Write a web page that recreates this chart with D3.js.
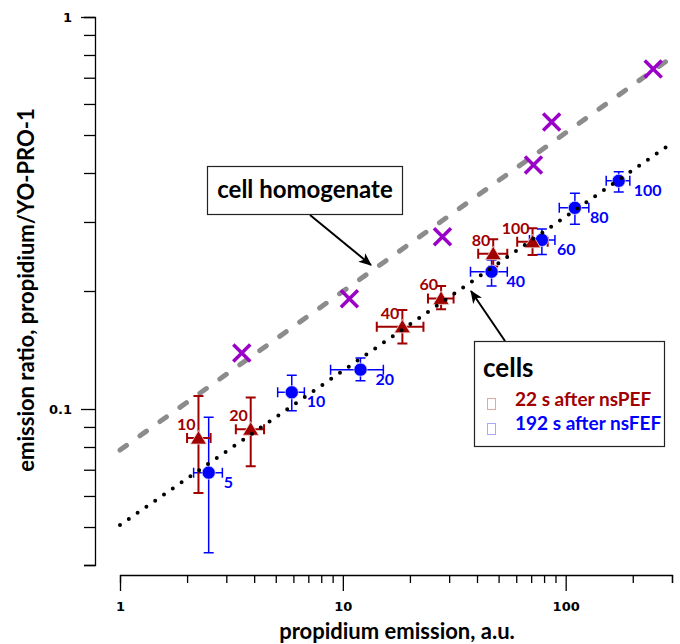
<!DOCTYPE html>
<html>
<head>
<meta charset="utf-8">
<script src="https://cdn.jsdelivr.net/npm/d3@7"></script>
<style>
  body { margin: 0; background: #fff; }
  svg { display: block; }
  .title { font-family: Lato, "Open Sans", sans-serif; font-weight: bold; }
</style>
</head>
<body>
<svg id="chart" width="680" height="644"></svg>
<script>
// homogenate (purple crosses) and its fit line
var homX = [3.52, 10.7, 28.0, 71.7, 86.5, 247];
var homY = [0.139, 0.191, 0.275, 0.419, 0.54, 0.737];
var homFitX = [1, 300];
var homFitY = [0.0786, 0.79];

// fit line through the cell data
var cellFitX = [1, 300];
var cellFitY = [0.0506, 0.477];

// cells, 22 s after nsPEF (red triangles)
var redLbl = ['10', '20', '40', '60', '80', '100'];
var redX   = [2.25, 3.86, 18.5, 27.6, 47.3, 71.0];
var redY   = [0.0843, 0.0888, 0.162, 0.1915, 0.249, 0.267];
var redXLo = [2.0, 3.31, 14.2, 24.1, 40.5, 60.6];
var redXHi = [2.55, 4.43, 23.0, 31.4, 54.7, 83.0];
var redYLo = [0.0611, 0.0714, 0.147, 0.1796, 0.231, 0.247];
var redYHi = [0.108, 0.107, 0.179, 0.206, 0.271, 0.289];

// cells, 192 s after nsFEF (blue circles)
var bluLbl = ['5', '10', '20', '40', '60', '80', '100'];
var bluX   = [2.5, 5.9, 12.0, 46.5, 78.2, 110, 173];
var bluY   = [0.0688, 0.1103, 0.126, 0.224, 0.270, 0.326, 0.382];
var bluXLo = [2.14, 5.1, 8.81, 37.4, 68.8, 93.6, 152];
var bluXHi = [2.88, 6.72, 15.2, 54.7, 89.5, 127, 194];
var bluYLo = [0.043, 0.099, 0.118, 0.206, 0.248, 0.296, 0.358];
var bluYHi = [0.0953, 0.122, 0.135, 0.24, 0.288, 0.355, 0.403];

// axis ticks
var xTicks = [1, 2, 3, 4, 5, 6, 7, 8, 9, 10, 20, 30, 40, 50, 60, 70, 80, 90, 100, 200, 300];
var xMajor = [1, 10, 100];
var yTicks = [0.04, 0.05, 0.06, 0.07, 0.08, 0.09, 0.1, 0.2, 0.3, 0.4, 0.5, 0.6, 0.7, 0.8, 0.9, 1];
var yMajor = [0.1, 1];

var RED = '#a00000', BLUE = '#0000ff', PURPLE = '#9a00c8', GRAY = '#8c8c8c';

var svg = d3.select('#chart');
var x = d3.scaleLog().domain([1, 300]).range([120, 672]);
var y = d3.scaleLog().domain([0.04, 1]).range([565, 17]);

function isMajor(list, v) {
    return list.some(function (m) { return Math.abs(m - v) < 1e-9; });
}

//x axis
var gx = svg.append('g')
    .attr('transform', 'translate(0,575)')
    .call(d3.axisBottom(x).tickValues(xTicks).tickSizeOuter(0).tickSize(8)
        .tickFormat(function (d) { return isMajor(xMajor, d) ? d3.format('d')(d) : ''; }));
gx.attr('font-family', 'Tahoma, "DejaVu Sans", sans-serif').attr('font-size', 13).attr('font-weight', 'bold');
gx.select('.domain').attr('stroke-width', 1.3);
gx.selectAll('.tick line').attr('stroke-width', 1.3)
    .attr('y2', function (d) { return isMajor(xMajor, d) ? 16 : 8; });
gx.selectAll('.tick text').attr('y', 27).attr('dy', '0.71em');

//y axis
var gy = svg.append('g')
    .attr('transform', 'translate(95,0)')
    .call(d3.axisLeft(y).tickValues(yTicks).tickSizeOuter(0).tickSize(11)
        .tickFormat(function (d) { return isMajor(yMajor, d) ? String(d) : ''; }));
gy.attr('font-family', 'Tahoma, "DejaVu Sans", sans-serif').attr('font-size', 13).attr('font-weight', 'bold');
gy.select('.domain').attr('stroke-width', 1.3);
gy.selectAll('.tick line').attr('stroke-width', 1.3)
    .attr('x2', function (d) { return isMajor(yMajor, d) ? -14 : -11; });
gy.selectAll('.tick text').attr('x', -23).attr('dy', '0.35em');

//axis titles
svg.append('text').attr('class', 'title')
    .attr('x', 397).attr('y', 639)
    .attr('text-anchor', 'middle').attr('font-size', 22)
    .text('propidium emission, a.u.');
svg.append('text').attr('class', 'title')
    .attr('transform', 'translate(34,290) rotate(-90)')
    .attr('text-anchor', 'middle').attr('font-size', 22)
    .text('emission ratio, propidium/YO-PRO-1');

var line = d3.line()
    .x(function (d) { return x(d[0]); })
    .y(function (d) { return y(d[1]); });

//homogenate fit (gray dashes)
svg.append('path')
    .datum(d3.zip(homFitX, homFitY))
    .attr('d', line)
    .attr('fill', 'none').attr('stroke', GRAY)
    .attr('stroke-width', 5).attr('stroke-linecap', 'round')
    .attr('stroke-dasharray', '8 16.5');

//homogenate points
svg.append('g').selectAll('path')
    .data(d3.zip(homX, homY))
    .join('path')
    .attr('transform', function (d) { return 'translate(' + x(d[0]) + ',' + y(d[1]) + ')'; })
    .attr('d', 'M-8.5,-8.5L8.5,8.5M-8.5,8.5L8.5,-8.5')
    .attr('stroke', PURPLE).attr('stroke-width', 3.5).attr('fill', 'none');

function drawSeries(xs, ys, xlo, xhi, ylo, yhi, color, sw) {
    var g = svg.append('g').attr('stroke', color).attr('stroke-width', sw).attr('fill', 'none');
    var cap = 5;
    xs.forEach(function (v, i) {
        var cx = x(v), cy = y(ys[i]);
        var x0 = x(xlo[i]), x1 = x(xhi[i]), y0 = y(ylo[i]), y1 = y(yhi[i]);
        g.append('path').attr('d',
            'M' + x0 + ',' + cy + 'H' + x1 +
            'M' + x0 + ',' + (cy - cap) + 'V' + (cy + cap) +
            'M' + x1 + ',' + (cy - cap) + 'V' + (cy + cap) +
            'M' + cx + ',' + y0 + 'V' + y1 +
            'M' + (cx - cap) + ',' + y0 + 'H' + (cx + cap) +
            'M' + (cx - cap) + ',' + y1 + 'H' + (cx + cap));
    });
}

drawSeries(bluX, bluY, bluXLo, bluXHi, bluYLo, bluYHi, BLUE, 1.5);
drawSeries(redX, redY, redXLo, redXHi, redYLo, redYHi, RED, 2);

//blue circles
svg.append('g').selectAll('circle')
    .data(d3.zip(bluX, bluY))
    .join('circle')
    .attr('cx', function (d) { return x(d[0]); })
    .attr('cy', function (d) { return y(d[1]); })
    .attr('r', 6.6)
    .attr('fill', BLUE).attr('stroke', '#d8d8ff').attr('stroke-width', 0.8);

//red triangles
svg.append('g').selectAll('path')
    .data(d3.zip(redX, redY))
    .join('path')
    .attr('transform', function (d) { return 'translate(' + x(d[0]) + ',' + y(d[1]) + ')'; })
    .attr('d', 'M0,-7.5L8,6L-8,6Z')
    .attr('fill', RED).attr('stroke', '#f0d8d8').attr('stroke-width', 0.8);

//cell fit (black dots) on top of markers
svg.append('path')
    .datum(d3.zip(cellFitX, cellFitY))
    .attr('d', line)
    .attr('fill', 'none').attr('stroke', '#000')
    .attr('stroke-width', 4).attr('stroke-linecap', 'round')
    .attr('stroke-dasharray', '0 10.7');

//point labels
svg.append('g').selectAll('text')
    .data(d3.zip(redX, redY, redLbl))
    .join('text')
    .attr('class', 'title')
    .attr('x', function (d) { return x(d[0]) - 3; })
    .attr('y', function (d) { return y(d[1]) - 8; })
    .attr('text-anchor', 'end').attr('font-size', 16).attr('fill', RED)
    .text(function (d) { return d[2]; });
svg.append('g').selectAll('text')
    .data(d3.zip(bluX, bluY, bluLbl))
    .join('text')
    .attr('class', 'title')
    .attr('x', function (d) { return x(d[0]) + 15; })
    .attr('y', function (d) { return y(d[1]) + 15; })
    .attr('font-size', 16).attr('fill', BLUE)
    .text(function (d) { return d[2]; });

//arrows
svg.append('defs').append('marker')
    .attr('id', 'head')
    .attr('viewBox', '0 0 13 11')
    .attr('refX', 12).attr('refY', 5.5)
    .attr('markerWidth', 13).attr('markerHeight', 11)
    .attr('markerUnits', 'userSpaceOnUse')
    .attr('orient', 'auto')
    .append('path').attr('d', 'M0,0L13,5.5L0,11L3.5,5.5Z').attr('fill', '#000');

function arrow(x1, y1, x2, y2) {
    svg.append('line')
        .attr('x1', x1).attr('y1', y1).attr('x2', x2).attr('y2', y2)
        .attr('stroke', '#000').attr('stroke-width', 2)
        .attr('marker-end', 'url(#head)');
}

arrow(310, 215, 371, 265);
arrow(505, 341, 471, 291);

//callout: cell homogenate
svg.append('rect')
    .attr('x', 207.5).attr('y', 166.5).attr('width', 195).attr('height', 48)
    .attr('fill', '#fff').attr('stroke', '#222').attr('stroke-width', 1.2);
svg.append('text').attr('class', 'title')
    .attr('x', 305).attr('y', 198)
    .attr('text-anchor', 'middle').attr('font-size', 24)
    .text('cell homogenate');

//legend box: cells
svg.append('rect')
    .attr('x', 474.5).attr('y', 341.5).attr('width', 190).attr('height', 105)
    .attr('fill', '#fff').attr('stroke', '#222').attr('stroke-width', 1.2);
svg.append('text').attr('class', 'title')
    .attr('x', 483).attr('y', 377).attr('font-size', 26)
    .text('cells');

var legItems = [
    { t: '22 s after nsPEF', c: RED, box: '#e0a8a8' },
    { t: '192 s after nsFEF', c: BLUE, box: '#a8a8ff' }
];
legItems.forEach(function (d, i) {
    svg.append('rect')
        .attr('x', 487.5).attr('y', 398.5 + i * 25).attr('width', 8).attr('height', 11)
        .attr('fill', 'none').attr('stroke', d.box).attr('stroke-width', 1);
    svg.append('text').attr('class', 'title')
        .attr('x', 515).attr('y', 406 + i * 24).attr('font-size', 19)
        .attr('fill', d.c)
        .text(d.t);
});
</script>
</body>
</html>
